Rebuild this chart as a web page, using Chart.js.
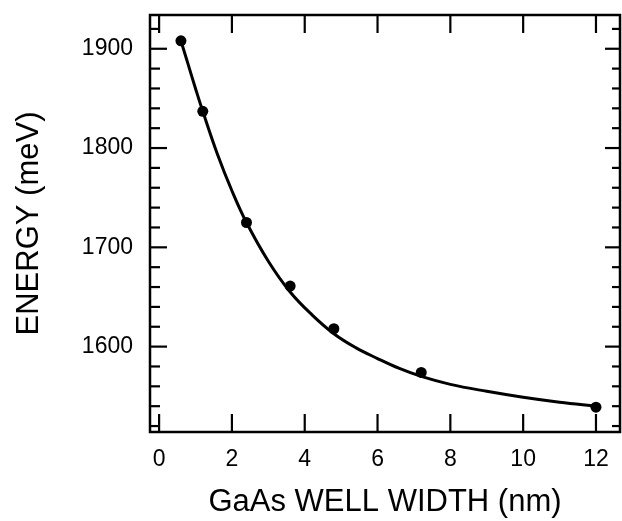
<!DOCTYPE html>
<html>
<head>
<meta charset="utf-8">
<script src="https://cdn.jsdelivr.net/npm/chart.js@4/dist/chart.umd.min.js"></script>
<style>
  html, body { margin: 0; padding: 0; background: #fff; }
</style>
</head>
<body>
<canvas id="grafico" width="622" height="521"></canvas>
<script>
// measured points
const puntosX = [0.6, 1.2, 2.4, 3.6, 4.8, 7.2, 12];
const puntosY = [1908, 1837, 1725, 1661, 1618, 1574, 1539];

// fitted curve
const curvaX = [0.6, 0.8, 1.0, 1.2, 1.6, 2.0, 2.4, 3.0, 3.6, 4.2, 4.8, 5.4, 6.0, 6.6, 7.2, 8, 9, 10, 11, 12];
const curvaY = [1908, 1884, 1860, 1837, 1794, 1757, 1725, 1686, 1655, 1632, 1613, 1599, 1588, 1578, 1570, 1562, 1555, 1549, 1544, 1540];

const ticksX = [0, 2, 4, 6, 8, 10, 12];
const ticksY = [1600, 1700, 1800, 1900];
const ticksYMenores = [1520, 1540, 1560, 1580, 1600, 1620, 1640, 1660, 1680, 1700, 1720, 1740, 1760, 1780, 1800, 1820, 1840, 1860, 1880, 1900, 1920];

const fuente = "'Liberation Sans', Arial, Helvetica, sans-serif";

function linea(ctx, x1, y1, x2, y2) {
    ctx.beginPath();
    ctx.moveTo(x1, y1);
    ctx.lineTo(x2, y2);
    ctx.stroke();
}

// frame with inward ticks on all four sides
const marco = {
    id: 'marco',
    afterDraw(chart) {
        const { ctx, chartArea: a, scales: { x, y } } = chart;
        ctx.save();
        ctx.strokeStyle = '#000';
        ctx.lineWidth = 2.5;
        ctx.lineCap = 'butt';
        ctx.strokeRect(a.left, a.top, a.right - a.left, a.bottom - a.top);
        ctx.lineWidth = 2.2;
        ticksX.forEach(v => {
            const px = x.getPixelForValue(v);
            linea(ctx, px, a.bottom, px, a.bottom - 18);
            linea(ctx, px, a.top, px, a.top + 18);
        });
        ticksYMenores.forEach(v => {
            const py = y.getPixelForValue(v);
            const mayor = ticksY.includes(v);
            linea(ctx, a.left, py, a.left + (mayor ? 17 : 10), py);
            linea(ctx, a.right, py, a.right - (mayor ? 15 : 8), py);
        });
        ctx.restore();
    }
};

const ctx = document.getElementById('grafico').getContext('2d');

new Chart(ctx, {
    type: 'line',
    data: {
        datasets: [{
            label: 'ajuste',
            data: curvaX.map((v, i) => ({ x: v, y: curvaY[i] })),
            borderColor: '#000',
            borderWidth: 3,
            pointRadius: 0,
            tension: 0.4,
            fill: false
        }, {
            label: 'datos',
            data: puntosX.map((v, i) => ({ x: v, y: puntosY[i] })),
            showLine: false,
            pointRadius: 5.5,
            pointBackgroundColor: '#000',
            pointBorderColor: '#000',
            pointBorderWidth: 0
        }]
    },
    options: {
        responsive: false,
        animation: false,
        layout: {
            autoPadding: false,
            padding: { top: 15, right: 2, left: 0, bottom: 0 }
        },
        plugins: {
            legend: { display: false },
            tooltip: { enabled: false }
        },
        scales: {
            x: {
                type: 'linear',
                position: 'bottom',
                min: -0.25,
                max: 12.66,
                grid: { display: false, drawTicks: false },
                border: { display: false },
                afterBuildTicks: s => { s.ticks = ticksX.map(v => ({ value: v })); },
                afterFit: s => {
                    s.height = 89;
                    s.paddingLeft = 0;
                    s.paddingRight = 0;
                },
                ticks: {
                    color: '#000',
                    padding: 14,
                    autoSkip: false,
                    maxRotation: 0,
                    callback: v => String(v),
                    font: { family: fuente, size: 23 }
                },
                title: {
                    display: true,
                    text: 'GaAs WELL WIDTH (nm)',
                    color: '#000',
                    padding: { top: 0, bottom: 3.5 },
                    font: { family: fuente, size: 31, lineHeight: 1 }
                }
            },
            y: {
                type: 'linear',
                position: 'left',
                min: 1514,
                max: 1934,
                grid: { display: false, drawTicks: false },
                border: { display: false },
                afterBuildTicks: s => { s.ticks = ticksY.map(v => ({ value: v })); },
                afterFit: s => {
                    s.width = 150;
                    s.paddingTop = 0;
                    s.paddingBottom = 0;
                },
                ticks: {
                    color: '#000',
                    padding: 17,
                    autoSkip: false,
                    callback: v => String(v),
                    font: { family: fuente, size: 23 }
                },
                title: {
                    display: true,
                    text: 'ENERGY (meV)',
                    color: '#000',
                    padding: { top: 13.5, bottom: 0 },
                    font: { family: fuente, size: 31, lineHeight: 1 }
                }
            }
        }
    },
    plugins: [marco]
});
</script>
</body>
</html>
